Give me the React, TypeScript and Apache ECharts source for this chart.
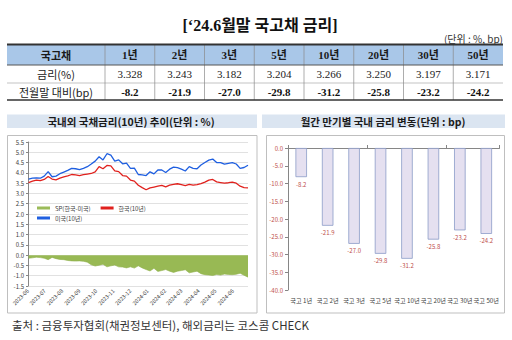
import React, { useEffect, useRef } from "react";
import * as echarts from "echarts";

// ---------- table data ----------
const tenors = ["1년", "2년", "3년", "5년", "10년", "20년", "30년", "50년"];
const rates = [3.328, 3.243, 3.182, 3.204, 3.266, 3.25, 3.197, 3.171];
const changes = [-8.2, -21.9, -27.0, -29.8, -31.2, -25.8, -23.2, -24.2];

// ---------- 10y yields (weekly) ----------
const weekDates = [
  "2023-06-02", "2023-06-09", "2023-06-16", "2023-06-23", "2023-06-30",
  "2023-07-07", "2023-07-14", "2023-07-21", "2023-07-28",
  "2023-08-04", "2023-08-11", "2023-08-18", "2023-08-25",
  "2023-09-01", "2023-09-08", "2023-09-15", "2023-09-22", "2023-09-29",
  "2023-10-06", "2023-10-13", "2023-10-20", "2023-10-27",
  "2023-11-03", "2023-11-10", "2023-11-17", "2023-11-24",
  "2023-12-01", "2023-12-08", "2023-12-15", "2023-12-22", "2023-12-29",
  "2024-01-05", "2024-01-12", "2024-01-19", "2024-01-26",
  "2024-02-02", "2024-02-09", "2024-02-16", "2024-02-23",
  "2024-03-01", "2024-03-08", "2024-03-15", "2024-03-22", "2024-03-29",
  "2024-04-05", "2024-04-12", "2024-04-19", "2024-04-26",
  "2024-05-03", "2024-05-10", "2024-05-17", "2024-05-24", "2024-05-31",
  "2024-06-07", "2024-06-14", "2024-06-21", "2024-06-28",
];
const usRates = [
  3.69, 3.74, 3.76, 3.74, 3.84,
  4.06, 3.81, 3.84, 3.96,
  4.04, 4.12, 4.22, 4.20,
  4.16, 4.22, 4.30, 4.43, 4.57,
  4.78, 4.63, 4.93, 4.86,
  4.57, 4.63, 4.44, 4.47,
  4.22, 4.23, 3.92, 3.90, 3.87,
  4.05, 3.95, 4.14, 4.14,
  4.02, 4.18, 4.28, 4.25,
  4.18, 4.09, 4.30, 4.22, 4.20,
  4.38, 4.50, 4.62, 4.67,
  4.50, 4.50, 4.42, 4.46, 4.50,
  4.43, 4.22, 4.26, 4.37,
];
const krRates = [
  3.53, 3.60, 3.65, 3.62, 3.68,
  3.82, 3.70, 3.66, 3.74,
  3.80, 3.85, 3.92, 3.90,
  3.87, 3.91, 3.94, 3.97, 4.05,
  4.30, 4.20, 4.36, 4.34,
  4.10, 4.06, 3.87, 3.84,
  3.65, 3.60, 3.40, 3.28, 3.18,
  3.27, 3.31, 3.35, 3.39,
  3.32, 3.40, 3.44, 3.47,
  3.43, 3.38, 3.44, 3.40, 3.43,
  3.48, 3.55, 3.65, 3.68,
  3.56, 3.53, 3.50, 3.52, 3.55,
  3.50, 3.35, 3.28, 3.27,
];
const spreadRates = [
  -0.15, -0.13, -0.10, -0.12, -0.15,
  -0.22, -0.11, -0.17, -0.21,
  -0.22, -0.26, -0.28, -0.29,
  -0.28, -0.30, -0.34, -0.47, -0.53,
  -0.49, -0.44, -0.57, -0.52,
  -0.48, -0.57, -0.58, -0.62,
  -0.57, -0.63, -0.52, -0.62, -0.70,
  -0.77, -0.64, -0.79, -0.75,
  -0.70, -0.78, -0.84, -0.78,
  -0.75, -0.71, -0.86, -0.82, -0.78,
  -0.90, -0.95, -0.97, -0.99,
  -0.94, -0.97, -0.92, -0.94, -0.95,
  -0.93, -0.88, -0.98, -1.07,
];

const SERIF = "'Liberation Serif','Noto Sans CJK KR',serif";
const SANS = "'Noto Sans CJK KR','Noto Sans',sans-serif";

function txt(x: number, y: number, text: string, font: string, fill: string, align = "center") {
  return {
    type: "text",
    x,
    y,
    style: {
      text,
      font,
      fill,
      align,
      verticalAlign: "middle",
      textAlign: align,
      textVerticalAlign: "middle",
    },
  };
}

function hline(x1: number, x2: number, y: number, w: number, c: string) {
  return { type: "line", shape: { x1, y1: y, x2, y2: y }, style: { stroke: c, lineWidth: w } };
}
function vline(x: number, y1: number, y2: number, w: number, c: string) {
  return { type: "line", shape: { x1: x, y1, x2: x, y2 }, style: { stroke: c, lineWidth: w } };
}

export default function App() {
  const ref = useRef<HTMLDivElement>(null);

  useEffect(() => {
    if (!ref.current) return;
    const chart = echarts.init(ref.current, null, { renderer: "svg" });

    // table layout
    const tL = 7, tR = 503, firstW = 98;
    const colW = (tR - tL - firstW) / tenors.length;
    const yTop = 44, yH = 65, yR2 = 83, yB = 100;
    const graphics: any[] = [];
    graphics.push(txt(260, 25, "[‘24.6월말 국고채 금리]", `bold 16px ${SERIF}`, "#111"));
    graphics.push(txt(503, 38.5, "(단위 : %, bp)", `10px ${SANS}`, "#333", "right"));
    graphics.push({ type: "rect", shape: { x: tL, y: yTop, width: tR - tL, height: yH - yTop }, style: { fill: "#a9c7e8" } });
    graphics.push(hline(tL, tR, yR2, 0.6, "#9a9a9a"));
    for (let i = 0; i <= tenors.length; i++) {
      const x = tL + firstW + i * colW;
      if (i < tenors.length) graphics.push(vline(x, yTop, yB, 0.7, "#8a8a8a"));
    }
    graphics.push(hline(tL, tR, yTop + 0.5, 2, "#333"));
    graphics.push(hline(tL, tR, yH, 1, "#555"));
    graphics.push(hline(tL, tR, yB, 1.5, "#333"));
    graphics.push(txt(tL + firstW / 2, 54.5, "국고채", `bold 11px ${SANS}`, "#1a1a1a"));
    graphics.push(txt(tL + firstW / 2, 74, "금리(%)", `11px ${SANS}`, "#222"));
    graphics.push(txt(tL + firstW / 2, 91.5, "전월말 대비(bp)", `11px ${SANS}`, "#222"));
    tenors.forEach((t, i) => {
      const cx = tL + firstW + (i + 0.5) * colW;
      graphics.push(txt(cx, 54.5, t, `bold 11px ${SERIF}`, "#1a1a1a"));
      graphics.push(txt(cx, 74, rates[i].toFixed(3), `11px ${SERIF}`, "#222"));
      graphics.push(txt(cx, 91.5, changes[i].toFixed(1), `bold 11px ${SERIF}`, "#111"));
    });

    // panel titles and frames
    graphics.push({ type: "rect", shape: { x: 7, y: 114.5, width: 250, height: 13.5 }, style: { fill: "#dbe5f1" } });
    graphics.push({ type: "rect", shape: { x: 262, y: 114.5, width: 243, height: 13.5 }, style: { fill: "#dbe5f1" } });
    graphics.push(txt(131, 121.5, "국내외 국채금리(10년) 추이(단위 : %)", `bold 10.5px ${SANS}`, "#1a1a1a"));
    graphics.push(txt(383, 121.5, "월간 만기별 국내 금리 변동(단위 : bp)", `bold 10.5px ${SANS}`, "#1a1a1a"));
    graphics.push({ type: "rect", shape: { x: 7.5, y: 135.5, width: 249.5, height: 177.5 }, style: { fill: "none", stroke: "#bfbfbf", lineWidth: 1 } });
    graphics.push({ type: "rect", shape: { x: 266.5, y: 135.5, width: 238, height: 177.5 }, style: { fill: "none", stroke: "#bfbfbf", lineWidth: 1 } });
    graphics.push(txt(12, 325, "출처 : 금융투자협회(채권정보센터), 해외금리는 코스콤 CHECK", `11.5px ${SANS}`, "#333", "left"));

    const barCats = tenors.map((t) => "국고 " + t);
    const legendText = { fontSize: 6, color: "#404040", fontFamily: SANS };

    chart.setOption({
      animation: false,
      backgroundColor: "#ffffff",
      textStyle: { fontFamily: SANS },
      graphic: graphics,
      legend: [
        {
          data: ["SP(한국-미국)", "한국(10년)"],
          left: 37, top: 205, padding: 0, itemWidth: 13, itemHeight: 3, itemGap: 10,
          icon: "rect", textStyle: legendText,
        },
        {
          data: ["미국(10년)"],
          left: 37, top: 215, padding: 0, itemWidth: 13, itemHeight: 3,
          icon: "rect", textStyle: legendText,
        },
      ],
      grid: [
        { left: 28, top: 142, width: 220, height: 144 },
        { left: 288, top: 148, width: 211.5, height: 142 },
      ],
      xAxis: [
        {
          gridIndex: 0,
          type: "time",
          min: "2023-06-01",
          max: "2024-06-28",
          splitNumber: 13,
          minInterval: 28 * 86400000,
          maxInterval: 31 * 86400000,
          axisLine: { show: false },
          axisTick: { show: false },
          splitLine: { show: false },
          axisLabel: {
            rotate: 45,
            fontSize: 5.5,
            color: "#404040",
            formatter: "{yyyy}-{MM}",
            margin: 4,
            showMaxLabel: false,
            hideOverlap: false,
          },
        },
        {
          gridIndex: 1,
          type: "category",
          data: barCats,
          position: "bottom",
          axisLine: { show: false, onZero: false },
          axisTick: { show: false },
          axisLabel: { interval: 0, fontSize: 6.2, color: "#404040", margin: 7 },
        },
        {
          gridIndex: 1,
          type: "category",
          data: barCats,
          position: "top",
          axisLine: { show: true, onZero: false, lineStyle: { color: "#868686", width: 1 } },
          axisTick: { show: true, length: 3, lineStyle: { color: "#868686" } },
          axisLabel: { show: false },
        },
      ],
      yAxis: [
        {
          gridIndex: 0,
          type: "value",
          min: -1.5,
          max: 5.5,
          interval: 0.5,
          axisLine: { show: true, lineStyle: { color: "#868686" } },
          axisTick: { show: true, length: 2, lineStyle: { color: "#868686" } },
          splitLine: { show: true, lineStyle: { color: "#d9d9d9", width: 0.8 } },
          axisLabel: { fontSize: 6, color: "#404040", margin: 4, formatter: (v: number) => v.toFixed(1) },
        },
        {
          gridIndex: 1,
          type: "value",
          min: -40,
          max: 0,
          interval: 5,
          axisLine: { show: true, lineStyle: { color: "#868686" } },
          axisTick: { show: true, length: 3, lineStyle: { color: "#868686" } },
          splitLine: { show: false },
          axisLabel: { fontSize: 6, color: "#c0504d", margin: 5, formatter: (v: number) => v.toFixed(1) },
        },
      ],
      series: [
        {
          name: "SP(한국-미국)",
          type: "line",
          xAxisIndex: 0,
          yAxisIndex: 0,
          data: weekDates.map((d, i) => [d, spreadRates[i]]),
          showSymbol: false,
          symbol: "none",
          lineStyle: { width: 0.6, color: "#8fb04a" },
          itemStyle: { color: "#9bbb59" },
          areaStyle: { color: "#98b954", opacity: 1 },
        },
        {
          name: "한국(10년)",
          type: "line",
          xAxisIndex: 0,
          yAxisIndex: 0,
          data: weekDates.map((d, i) => [d, krRates[i]]),
          showSymbol: false,
          symbol: "none",
          lineStyle: { width: 1.3, color: "#e0211d" },
          itemStyle: { color: "#e0211d" },
        },
        {
          name: "미국(10년)",
          type: "line",
          xAxisIndex: 0,
          yAxisIndex: 0,
          data: weekDates.map((d, i) => [d, usRates[i]]),
          showSymbol: false,
          symbol: "none",
          lineStyle: { width: 1.3, color: "#1f5fe0" },
          itemStyle: { color: "#1f5fe0" },
        },
        {
          name: "변동",
          type: "bar",
          xAxisIndex: 1,
          yAxisIndex: 1,
          data: changes,
          barWidth: 11.5,
          itemStyle: { color: "#e5e0f0", borderColor: "#8c9cc8", borderWidth: 0.8 },
          label: {
            show: true,
            position: "bottom",
            distance: 4,
            fontSize: 6,
            color: "#c0504d",
            formatter: (p: any) => Number(p.value).toFixed(1),
          },
        },
      ],
    });

    return () => chart.dispose();
  }, []);

  return (
    <div
      ref={ref}
      style={{ position: "absolute", left: 0, top: 0, width: 512, height: 340, background: "#fff" }}
    />
  );
}
